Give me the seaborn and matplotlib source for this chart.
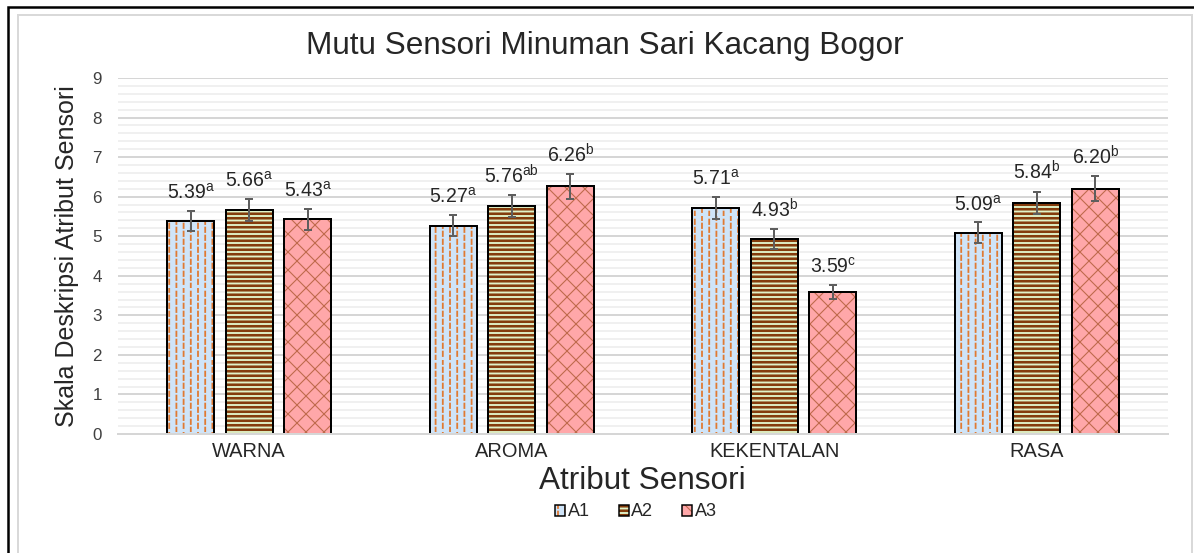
import numpy as np
import pandas as pd
import matplotlib
matplotlib.use('Agg')
import matplotlib.pyplot as plt
import matplotlib.patches as mpatches
import matplotlib.colors as mcolors
from matplotlib import hatch as mhatch
from matplotlib.path import Path
from matplotlib.container import BarContainer
from matplotlib.ticker import MultipleLocator
import seaborn as sns

sns.set_style(style='white')
plt.rcParams['font.family'] = ['Liberation Sans', 'DejaVu Sans']

# data
atribut = ['WARNA', 'AROMA', 'KEKENTALAN', 'RASA']
sampel = ['A1', 'A2', 'A3']
skor_a1 = [5.39, 5.27, 5.71, 5.09]
skor_a2 = [5.66, 5.76, 4.93, 5.84]
skor_a3 = [5.43, 6.26, 3.59, 6.20]
err_a1 = [0.26, 0.27, 0.28, 0.26]
err_a2 = [0.28, 0.28, 0.25, 0.29]
err_a3 = [0.27, 0.31, 0.18, 0.32]
notasi_a1 = ['a', 'a', 'a', 'a']
notasi_a2 = ['a', 'ab', 'b', 'b']
notasi_a3 = ['a', 'b', 'c', 'b']

skor = [skor_a1, skor_a2, skor_a3]
err = [err_a1, err_a2, err_a3]
notasi = [notasi_a1, notasi_a2, notasi_a3]

# bar styles: face colour, hatch, hatch colour, hatch width
face_colors = ['#cfe4f8', '#e0f3c8', '#ffa7a9']
hatches = ['|', '--', 'x']
hatch_colors = ['#e07a32', '#843c0c', '#bf6a4c']
hatch_widths = [1.8, 2.6, 1.1]


class DashedVertical(mhatch.HatchPatternBase):
    # short staggered vertical dashes instead of full lines for '|'
    def __init__(self, hatch, density):
        self.num_cols = 10 if '|' in hatch else 0
        self.num_dash = 9
        self.num_vertices = self.num_cols * self.num_dash * 2

    def set_vertices_and_codes(self, vertices, codes):
        k = 0
        step = 1.0 / self.num_dash
        for i in range(self.num_cols):
            x = (i + 0.5) / self.num_cols
            off = step / 2 if i % 2 else 0.0
            for j in range(self.num_dash):
                y0 = j * step + off
                vertices[k] = (x, y0)
                vertices[k + 1] = (x, y0 + step * 0.55)
                codes[k] = Path.MOVETO
                codes[k + 1] = Path.LINETO
                k += 2


class DenseHorizontal(mhatch.HorizontalHatch):
    def __init__(self, hatch, density):
        super().__init__(hatch, int(density * 1.35))


class DenseNorthEast(mhatch.NorthEastHatch):
    def __init__(self, hatch, density):
        super().__init__(hatch, int(density * 1.35))


class DenseSouthEast(mhatch.SouthEastHatch):
    def __init__(self, hatch, density):
        super().__init__(hatch, int(density * 1.35))


swap = {mhatch.VerticalHatch: DashedVertical,
        mhatch.HorizontalHatch: DenseHorizontal,
        mhatch.NorthEastHatch: DenseNorthEast,
        mhatch.SouthEastHatch: DenseSouthEast}
mhatch._hatch_types = [swap.get(t, t) for t in mhatch._hatch_types]


def style_patch(p, i):
    p.set_hatch(hatches[i])
    p._hatch_color = mcolors.to_rgba(hatch_colors[i])
    if hasattr(p, 'set_hatch_linewidth'):
        p.set_hatch_linewidth(hatch_widths[i])
    else:
        p._hatch_linewidth = hatch_widths[i]


rows = []
for i, s in enumerate(sampel):
    for j, a in enumerate(atribut):
        rows.append({'atribut': a, 'sampel': s, 'skor': skor[i][j]})
df = pd.DataFrame(rows)

W, H = 1194, 553
fig = plt.figure(figsize=(W / 72, H / 72), dpi=72)
ax = fig.add_axes([118 / W, 1 - 434 / H, 1050 / W, 356 / H])

sns.barplot(data=df, x='atribut', y='skor', hue='sampel', order=atribut,
            hue_order=sampel, palette=face_colors, saturation=1,
            width=0.67, gap=0.2, edgecolor='black', linewidth=2,
            errorbar=None, legend=False, ax=ax)

bars = [c for c in ax.containers if isinstance(c, BarContainer)]
for i, cont in enumerate(bars):
    for p in cont.patches:
        style_patch(p, i)
        xc = p.get_x() + p.get_width() / 2
        j = int(round(xc))
        v = skor[i][j]
        e = err[i][j]
        ax.errorbar(xc, v, yerr=e, fmt='none', ecolor='#5e5e5e',
                    elinewidth=2, capsize=4, capthick=2, zorder=4)
        ax.annotate(f'{v:.2f}' + r'$^{\mathregular{' + notasi[i][j] + '}}$',
                    xy=(xc, v + e), xytext=(0, 8), textcoords='offset points',
                    ha='center', va='bottom', fontsize=19.5, color='#262626')

ax.set_ylim(0, 9)
ax.set_yticks(range(10))
ax.yaxis.set_minor_locator(MultipleLocator(0.2))
ax.set_xlim(-0.5, 3.5)
ax.grid(which='major', axis='y', color='#d6d6d6', lw=2)
ax.grid(which='minor', axis='y', color='#ececec', lw=1.5)
ax.set_axisbelow(True)
for side in ['top', 'left', 'right']:
    ax.spines[side].set_visible(False)
ax.spines['bottom'].set_color('#d6d6d6')
ax.spines['bottom'].set_linewidth(2)
ax.tick_params(axis='both', which='both', length=0)
ax.tick_params(axis='y', labelsize=17, pad=16, labelcolor='#404040')
ax.tick_params(axis='x', labelsize=20, pad=8, labelcolor='#262626')
ax.set_xlabel('')
ax.set_ylabel('')

fig.text(605 / W, 1 - 46 / H, 'Mutu Sensori Minuman Sari Kacang Bogor',
         ha='center', va='center', fontsize=31.5, color='#262626')
fig.text(642 / W, 1 - 481 / H, 'Atribut Sensori',
         ha='center', va='center', fontsize=31.5, color='#262626')
fig.text(67 / W, 1 - 256 / H, 'Skala Deskripsi Atribut Sensori',
         ha='center', va='center', rotation=90, fontsize=25, color='#262626')

handles = []
for i in range(3):
    h = mpatches.Patch(facecolor=face_colors[i], edgecolor='black', lw=1.5)
    style_patch(h, i)
    handles.append(h)
leg = fig.legend(handles, sampel, loc='center', bbox_to_anchor=(636 / W, 1 - 512 / H),
                 ncol=3, frameon=False, fontsize=18, handlelength=0.55,
                 handleheight=0.55, handletextpad=0.15, columnspacing=1.6)
for i, p in enumerate(leg.get_patches()):
    style_patch(p, i)

# chart frame
fig.add_artist(mpatches.Rectangle((8 / W, -0.1), 2, 1.1 - 7 / H, transform=fig.transFigure,
                                  fill=False, edgecolor='black', lw=2.5))
fig.add_artist(mpatches.Rectangle((18 / W, -0.1), (1192 - 18) / W, 1.1 - 15 / H,
                                  transform=fig.transFigure, fill=False,
                                  edgecolor='#d9d9d9', lw=2))

fig.savefig('out.png', dpi=72)
